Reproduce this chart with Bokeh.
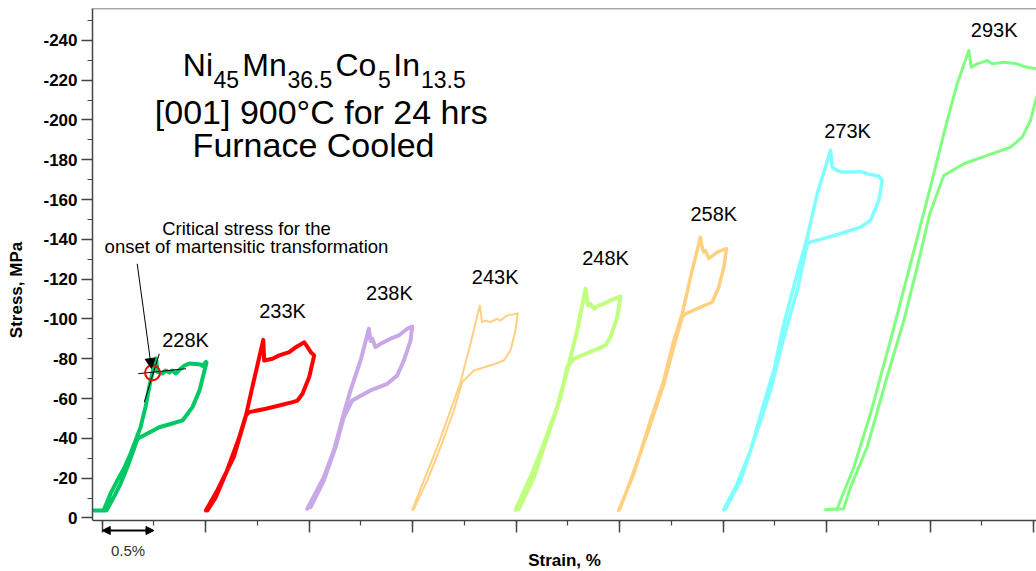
from bokeh.plotting import figure
from bokeh.models import (Range1d, SingleIntervalTicker, FixedTicker, Label, Arrow, NormalHead,
                          CustomJSTickFormatter, LinearAxis)
from bokeh.embed import file_html
from bokeh.resources import INLINE

# ---------------- data (strain %, stress MPa; compressive = negative) -------------
strain_228 = [-0.079, 0.013, 0.080, 0.145, 0.209, 0.273, 0.322, 0.370, 0.418, 0.457, 0.486, 0.520,
              0.534, 0.583, 0.612, 0.647, 0.679, 0.711, 0.759, 0.795, 0.841, 0.904, 0.950, 0.969, 1.003, 1.008,
              0.988, 0.940, 0.872, 0.776, 0.660, 0.551, 0.341, 0.290, 0.242, 0.177, 0.112, 0.042, -0.079]
stress_228 = [-3.8, -3.8, -12.2, -18.8, -24.7, -32.3, -38.9, -45.6, -55.7, -66.6, -73.1, -80.2,
              -73.4, -72.6, -74.1, -73.1, -74.1, -72.6, -75.1, -76.6, -77.6, -77.4, -77.1, -76.4, -78.4, -78.1,
              -74.1, -64.1, -55.7, -49.0, -47.2, -45.6, -39.8, -32.3, -25.5, -17.2, -10.5, -3.8, -3.8]

strain_233 = [1.001, 1.111, 1.271, 1.385, 1.465, 1.510, 1.556, 1.565, 1.645, 1.710, 1.807, 1.871, 1.952,
              1.984, 2.015, 2.048, 2.000, 1.935, 1.887, 1.839, 1.710, 1.581, 1.420, 1.387, 1.324, 1.194,
              1.098, 1.017]
stress_233 = [-3.8, -13.8, -30.6, -50.7, -69.1, -79.1, -89.5, -79.1, -80.0, -81.7, -83.3, -85.8, -88.3,
              -85.8, -83.3, -81.7, -70.8, -62.4, -59.0, -58.2, -56.5, -54.9, -53.2, -51.5, -40.6, -22.2,
              -10.5, -3.8]

strain_238 = [1.981, 2.141, 2.238, 2.334, 2.399, 2.496, 2.576, 2.592, 2.609, 2.641, 2.689, 2.786, 2.866,
              2.947, 2.995, 2.979, 2.914, 2.850, 2.754, 2.592, 2.415, 2.334, 2.254, 2.141, 2.013]
stress_238 = [-4.6, -20.5, -33.9, -52.4, -64.1, -79.1, -95.1, -88.9, -90.1, -85.8, -87.5, -90.1, -91.7,
              -95.1, -96.2, -89.1, -79.1, -71.6, -67.4, -64.1, -59.0, -50.7, -35.6, -18.8, -5.4]

strain_243 = [2.995, 3.107, 3.237, 3.365, 3.462, 3.558, 3.648, 3.671, 3.703, 3.751, 3.816, 3.848, 3.913,
              3.977, 4.015, 3.993, 3.945, 3.880, 3.800, 3.590, 3.478, 3.397, 3.269, 3.140, 3.008]
stress_243 = [-4.1, -18.8, -35.6, -54.0, -68.2, -87.5, -106.8, -98.4, -99.2, -98.4, -100.1, -99.2, -101.8,
              -102.3, -102.9, -94.2, -84.2, -79.1, -77.5, -74.1, -68.2, -54.0, -35.6, -18.8, -4.1]

strain_248 = [3.993, 4.138, 4.267, 4.396, 4.493, 4.589, 4.670, 4.692, 4.718, 4.750, 4.798, 4.846, 4.911,
              5.007, 4.976, 4.911, 4.863, 4.750, 4.557, 4.493, 4.429, 4.300, 4.171, 4.026]
stress_248 = [-4.1, -20.5, -37.3, -55.7, -74.1, -94.2, -115.2, -106.8, -107.6, -105.1, -106.8, -107.6, -109.3,
              -111.3, -100.9, -90.9, -86.7, -84.2, -80.0, -75.8, -60.7, -40.6, -20.5, -4.6]

strain_258 = [4.991, 5.136, 5.297, 5.426, 5.523, 5.604, 5.684, 5.780, 5.797, 5.812, 5.829, 5.861, 5.942,
              6.032, 6.006, 5.957, 5.894, 5.780, 5.635, 5.604, 5.539, 5.426, 5.266, 5.105, 5.001]
stress_258 = [-3.8, -22.2, -49.0, -69.1, -89.2, -102.6, -121.0, -141.1, -136.1, -133.6, -134.4, -130.3, -133.6,
              -135.3, -126.0, -116.0, -108.4, -105.9, -102.6, -100.9, -89.2, -67.4, -42.3, -18.8, -4.6]

strain_273 = [6.006, 6.135, 6.264, 6.392, 6.489, 6.586, 6.715, 6.812, 6.908, 7.037, 7.053, 7.101, 7.150,
              7.262, 7.327, 7.391, 7.503, 7.536, 7.503, 7.423, 7.326, 7.133, 6.843, 6.812, 6.715, 6.586,
              6.457, 6.329, 6.168, 6.023]
stress_273 = [-4.1, -17.2, -33.9, -57.4, -74.1, -97.6, -122.7, -141.1, -162.9, -184.7, -176.3, -174.6, -173.8,
              -173.8, -174.1, -173.0, -171.8, -169.6, -159.5, -149.5, -146.1, -142.8, -138.6, -137.8, -114.3, -90.9,
              -64.1, -44.0, -18.8, -4.6]

strain_293 = [6.989, 7.101, 7.262, 7.423, 7.616, 7.809, 8.002, 8.164, 8.261, 8.373, 8.396, 8.454, 8.551,
              8.599, 8.711, 8.841, 8.904, 9.017, 9.114, 9.114, 9.027, 8.969, 8.889, 8.776, 8.551, 8.325,
              8.131, 7.996, 7.874, 7.745, 7.573, 7.391, 7.230, 7.164, 6.989]
stress_293 = [-4.1, -4.6, -25.5, -52.4, -89.2, -127.7, -166.2, -199.7, -218.2, -234.9, -226.5, -228.2, -229.9,
              -228.2, -229.0, -228.2, -226.9, -225.7, -224.9, -217.3, -211.5, -199.7, -191.4, -186.3, -182.2, -178.0,
              -172.1, -152.9, -126.0, -99.2, -69.1, -35.6, -15.5, -4.6, -4.1]

temps = ["228K", "233K", "238K", "243K", "248K", "258K", "273K", "293K"]
temp_label_strain = [0.805, 1.742, 2.775, 3.797, 4.863, 5.909, 7.201, 8.618]
temp_label_stress = [-89.2, -104.0, -113.1, -121.0, -130.4, -152.7, -194.6, -245.0]

curves = [(strain_228, stress_228), (strain_233, stress_233), (strain_238, stress_238),
          (strain_243, stress_243), (strain_248, stress_248), (strain_258, stress_258),
          (strain_273, stress_273), (strain_293, stress_293)]

# critical stress marker (228K)
critical_strain = [0.486]
critical_stress = [-73.0]
tangent_plateau_strain = [0.348, 0.808]
tangent_plateau_stress = [-72.5, -75.0]
tangent_elastic_strain = [0.406, 0.551]
tangent_elastic_stress = [-58.2, -82.5]

# 0.5 % strain scale bar
scale_bar_strain = [0.0, 0.5]

# ---------------- styling ----------------
colors = ["#00C864", "#FF0000", "#C8A8E6", "#FFD080", "#C0FF80", "#FFD080", "#80FFFF", "#80FF80"]
widths = [4, 4, 4, 2, 4, 3.5, 3.5, 3]
FONT = "Liberation Sans"
AXIS_BOTTOM = 1.26     # stress value at the strain-axis line
Y_TOP = -256.0

p = figure(width=1036, height=571, output_backend="svg", toolbar_location=None,
           x_range=Range1d(-0.094, 9.027), y_range=Range1d(26.9, Y_TOP),
           min_border_left=92, min_border_right=0, min_border_top=8, min_border_bottom=0)
p.background_fill_color = "white"
p.border_fill_color = "white"
p.outline_line_color = None
p.xgrid.visible = False
p.ygrid.visible = False

# axes
p.xaxis.ticker = SingleIntervalTicker(interval=1, num_minor_ticks=2)
p.xaxis.fixed_location = AXIS_BOTTOM
p.yaxis.ticker = SingleIntervalTicker(interval=20, num_minor_ticks=2)
p.yaxis.bounds = (Y_TOP, AXIS_BOTTOM)
p.yaxis.formatter = CustomJSTickFormatter(code="return String(Math.round(tick));")
for ax in (p.xaxis[0], p.yaxis[0]):
    ax.axis_line_color = "#444444"
    ax.axis_line_width = 1.5
    ax.major_tick_line_color = "#444444"
    ax.minor_tick_line_color = "#444444"
    ax.major_tick_line_width = 1.5
    ax.minor_tick_line_width = 1.2
    ax.major_tick_in = 0
    ax.minor_tick_in = 0
    ax.axis_label_text_font = FONT
    ax.axis_label_text_font_style = "bold"
    ax.axis_label_text_font_size = "17px"
    ax.axis_label_text_color = "black"
p.yaxis.major_tick_out = 11
p.yaxis.minor_tick_out = 5
p.xaxis.major_tick_out = 12
p.xaxis.minor_tick_out = 5
p.yaxis.major_label_text_font = FONT
p.yaxis.major_label_text_font_style = "bold"
p.yaxis.major_label_text_font_size = "17px"
p.yaxis.major_label_text_color = "black"
p.yaxis.major_label_standoff = 4
p.yaxis.axis_label = "Stress, MPa"
p.yaxis.axis_label_standoff = 14
p.xaxis.major_label_text_font_size = "0px"
p.xaxis.major_label_text_color = None
p.xaxis.major_label_standoff = 0
p.xaxis.axis_label = "Strain, %"
p.xaxis.axis_label_standoff = 18

# top border line of the plot box
top_axis = LinearAxis(fixed_location=Y_TOP, ticker=FixedTicker(ticks=[]),
                      axis_line_color="#555555", axis_line_width=1.5,
                      major_label_text_font_size="0px", major_label_text_color=None)
p.add_layout(top_axis, "above")

# curves
for (sx, sy), c, w in zip(curves, colors, widths):
    p.line(sx, sy, line_color=c, line_width=w, line_join="round", line_cap="round")

# temperature labels
for t, x, y in zip(temps, temp_label_strain, temp_label_stress):
    p.add_layout(Label(x=x, y=y, text=t, text_align="center", text_baseline="middle",
                       text_font=FONT, text_font_size="20px", text_color="black"))

# critical stress annotation
p.line(tangent_plateau_strain, tangent_plateau_stress, line_color="black", line_width=1)
p.line(tangent_elastic_strain, tangent_elastic_stress, line_color="black", line_width=1)
p.scatter(critical_strain, critical_stress, marker="circle", size=15, fill_color=None,
          line_color="#FF0000", line_width=2)
p.add_layout(Arrow(end=NormalHead(size=10, fill_color="black", line_color="black"),
                   x_start=0.338, y_start=-127.7, x_end=0.476, y_end=-75.1,
                   line_color="black", line_width=1))
p.add_layout(Label(x=1.394, y=-145.3, text="Critical stress for the", text_align="center",
                   text_baseline="middle", text_font=FONT, text_font_size="18.5px", text_color="black"))
p.add_layout(Label(x=1.394, y=-136.3, text="onset of martensitic transformation", text_align="center",
                   text_baseline="middle", text_font=FONT, text_font_size="18.5px", text_color="black"))

# title block
title_pieces = ["Ni", "45", "Mn", "36.5", "Co", "5", "In", "13.5"]
title_piece_strain = [0.779, 1.075, 1.353, 1.790, 2.254, 2.665, 2.812, 3.080]
title_piece_sub = [False, True, False, True, False, True, False, True]
for txt, x, sub in zip(title_pieces, title_piece_strain, title_piece_sub):
    p.add_layout(Label(x=x, y=-220.4 if sub else -227.8, text=txt, text_align="left",
                       text_baseline="middle", text_font=FONT,
                       text_font_size="23px" if sub else "32px", text_color="black"))
p.add_layout(Label(x=2.117, y=-204.2, text="[001] 900°C for 24 hrs", text_align="center",
                   text_baseline="middle", text_font=FONT, text_font_size="34px", text_color="black"))
p.add_layout(Label(x=2.042, y=-187.6, text="Furnace Cooled", text_align="center",
                   text_baseline="middle", text_font=FONT, text_font_size="34px", text_color="black"))

# 0.5 % scale marker below the axis
p.add_layout(Arrow(start=NormalHead(size=8, fill_color="black", line_color="black"),
                   end=NormalHead(size=8, fill_color="black", line_color="black"),
                   x_start=scale_bar_strain[0], y_start=6.3, x_end=scale_bar_strain[1], y_end=6.3,
                   line_color="black", line_width=2))
p.add_layout(Label(x=sum(scale_bar_strain) / 2, y=16.3, text="0.5%",
                   text_align="center", text_baseline="middle",
                   text_font=FONT, text_font_size="15px", text_color="#333333"))

open("out.html", "w").write(file_html(p, INLINE))
